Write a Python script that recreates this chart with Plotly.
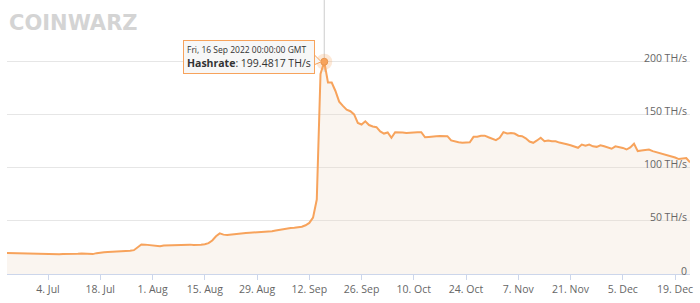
import pandas as pd
import plotly.graph_objects as go

# ---- data (daily network hashrate, TH/s) ----
start_date = "2022-06-23"
end_date = "2022-12-23"
hashrate = [
    # Jun 23 - Jul 2
    19.8, 19.7, 19.5, 19.3, 19.1, 19.0, 18.8, 18.7, 18.6, 18.6,
    # Jul 3 - Jul 12
    18.5, 18.6, 18.5, 18.7, 18.6, 18.8, 18.7, 18.9, 18.8, 19.0,
    # Jul 13 - Jul 22
    19.3, 19.2, 18.8, 18.7, 19.6, 20.2, 20.4, 20.6, 20.7, 20.9,
    # Jul 23 - Aug 1
    21.1, 21.3, 21.5, 21.8, 22.4, 25.5, 27.8, 27.6, 27.2, 26.9,
    # Aug 2 - Aug 11
    26.5, 26.0, 26.8, 27.0, 26.8, 27.1, 27.0, 27.3, 27.4, 27.6,
    # Aug 12 - Aug 21
    27.2, 27.0, 27.4, 28.0, 29.0, 31.5, 35.5, 38.2, 37.0, 36.7,
    # Aug 22 - Aug 31
    37.2, 37.6, 38.0, 38.3, 38.5, 38.7, 38.9, 39.1, 39.4, 39.3,
    # Sep 1 - Sep 10
    39.8, 40.2, 40.8, 41.5, 41.7, 42.5, 43.2, 43.4, 43.9, 44.4,
    # Sep 11 - Sep 20
    45.8, 48.0, 53.0, 70.0, 188.0, 199.4817, 180.0, 180.0, 172.0, 162.0,
    # Sep 21 - Sep 30
    158.0, 154.5, 153.0, 150.0, 142.0, 140.5, 143.5, 140.0, 138.6, 138.0,
    # Oct 1 - Oct 10
    134.0, 132.0, 133.0, 128.0, 133.3, 133.5, 133.0, 132.6, 133.0, 132.8,
    # Oct 11 - Oct 20
    133.3, 133.3, 128.5, 128.8, 129.5, 129.5, 129.8, 129.3, 129.5, 125.5,
    # Oct 21 - Oct 30
    124.5, 123.8, 123.3, 123.3, 123.8, 128.9, 129.0, 130.0, 130.0, 128.5,
    # Oct 31 - Nov 9
    127.0, 125.8, 128.0, 133.3, 132.0, 132.5, 132.0, 130.0, 129.5, 127.5,
    # Nov 10 - Nov 19
    124.5, 123.3, 125.5, 128.0, 124.8, 125.5, 124.8, 124.8, 123.5, 122.4,
    # Nov 20 - Nov 29
    122.0, 121.0, 119.5, 118.6, 121.7, 120.5, 121.7, 120.0, 119.5, 121.0,
    # Nov 30 - Dec 9
    120.0, 119.0, 117.7, 120.0, 119.5, 118.5, 117.0, 119.0, 122.4, 115.5,
    # Dec 10 - Dec 19
    116.0, 116.5, 117.0, 115.5, 114.5, 113.3, 112.5, 111.5, 110.8, 109.5,
    # Dec 20 - Dec 23
    108.0, 108.5, 109.0, 105.0,
]
dates = pd.date_range(start_date, end_date, freq="D")

x_tick_dates = ["2022-07-04", "2022-07-18", "2022-08-01", "2022-08-15", "2022-08-29",
                "2022-09-12", "2022-09-26", "2022-10-10", "2022-10-24", "2022-11-07",
                "2022-11-21", "2022-12-05", "2022-12-19"]
x_tick_labels = ["4. Jul", "18. Jul", "1. Aug", "15. Aug", "29. Aug", "12. Sep", "26. Sep",
                 "10. Oct", "24. Oct", "7. Nov", "21. Nov", "5. Dec", "19. Dec"]
y_tick_vals = [0, 50, 100, 150, 200, 250]
y_tick_labels = ["0", "50 TH/s", "100 TH/s", "150 TH/s", "200 TH/s", ""]

hover_date = "2022-09-16"
hover_text_date = "Fri, 16 Sep 2022 00:00:00 GMT"
series_name = "Hashrate"

# ---- figure ----
ORANGE = "#f7a35c"
FONT = "Open Sans"

idx = list(dates.strftime("%Y-%m-%d")).index(hover_date)
peak_x = dates[idx]
peak_y = hashrate[idx]

fig = go.Figure()
fig.add_trace(go.Scatter(
    x=dates, y=hashrate, mode="lines",
    line=dict(color=ORANGE, width=2),
    fill="tozeroy", fillcolor="rgba(235,215,195,0.25)",
    hoverinfo="skip", showlegend=False,
))
# hover halo + marker
fig.add_trace(go.Scatter(
    x=[peak_x], y=[peak_y], mode="markers",
    marker=dict(size=16, color="rgba(247,163,92,0.25)"),
    hoverinfo="skip", showlegend=False, cliponaxis=False,
))
fig.add_trace(go.Scatter(
    x=[peak_x], y=[peak_y], mode="markers",
    marker=dict(size=7, color=ORANGE, line=dict(color="#e8954e", width=1)),
    hoverinfo="skip", showlegend=False, cliponaxis=False,
))

# crosshair
fig.add_shape(type="line", xref="x", yref="paper", x0=peak_x, x1=peak_x,
              y0=0.76, y1=1.03, line=dict(color="#cccccc", width=1), layer="below")

# tooltip pointer
fig.add_shape(type="path", xref="x", yref="y", xsizemode="pixel", ysizemode="pixel",
              xanchor=peak_x, yanchor=peak_y,
              path="M -10,7 L -3,0 L -10,-3 Z",
              fillcolor="rgba(247,247,247,0.95)", line=dict(color=ORANGE, width=1))

fig.add_annotation(
    x=peak_x, y=peak_y, xref="x", yref="y",
    xanchor="right", yanchor="middle", xshift=-9, yshift=5,
    showarrow=False, align="left",
    text=("<span style='font-size:8.5px'>" + hover_text_date + "</span><br>"
          "<b>" + series_name + "</b>: " + f"{peak_y:.4f}" + " TH/s"),
    font=dict(family=FONT, size=10.5, color="#333333"),
    bgcolor="rgba(247,247,247,0.95)", bordercolor=ORANGE, borderwidth=1, borderpad=3,
)

# watermark logo
fig.add_annotation(
    x=0, y=1, xref="paper", yref="paper", xanchor="left", yanchor="top",
    xshift=0, yshift=-1, showarrow=False,
    text="<b>COINWARZ</b>",
    font=dict(family="DejaVu Sans", size=21, color="#d4d4d4"),
)

fig.update_layout(
    width=700, height=303,
    margin=dict(l=7, r=8, t=8, b=28),
    paper_bgcolor="white", plot_bgcolor="white",
    font=dict(family=FONT, size=11, color="#666666"),
    hovermode=False,
    xaxis=dict(
        range=[start_date, end_date],
        tickvals=x_tick_dates, ticktext=x_tick_labels,
        showgrid=False, zeroline=False,
        showline=True, linecolor="#ccd6eb", linewidth=1,
        ticks="outside", ticklen=5, tickcolor="#ccd6eb",
        ticklabeloverflow="allow",
        tickfont=dict(family=FONT, size=10.5, color="#666666"),
    ),
    yaxis=dict(
        range=[0, 250], side="right",
        tickvals=y_tick_vals, ticktext=y_tick_labels,
        ticklabelposition="inside", ticklabelshift=-3,
        ticklabeloverflow="allow",
        showgrid=True, gridcolor="#e6e6e6", gridwidth=1,
        zeroline=False, showline=False, ticks="",
        tickfont=dict(family=FONT, size=10.5, color="#666666"),
    ),
)

fig.write_html("out.html")
